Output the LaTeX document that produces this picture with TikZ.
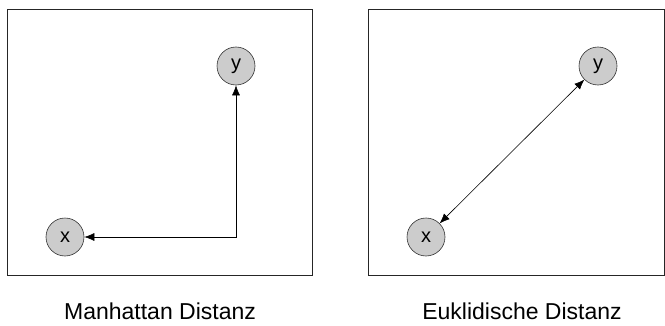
\documentclass[tikz,border=0pt]{standalone}
\usepackage{fontspec}
\setmainfont{Liberation Sans}
\usetikzlibrary{arrows.meta}
\begin{document}
\begin{tikzpicture}[x=1pt,y=1pt,
  pt/.style={circle,draw=black!80,fill=black!20,line width=0.6pt,minimum size=38pt,inner sep=0pt,font=\fontsize{20}{20}\selectfont},
  frame/.style={draw=black!85,line width=1pt},
  conn/.style={line width=0.6pt,{Latex[length=10pt,width=8pt]}-{Latex[length=10pt,width=8pt]}},
  captext/.style={font=\fontsize{23}{23}\selectfont}]
\useasboundingbox (0,0) rectangle (665,325);
% left
\draw[frame] (7,50) rectangle (312,316);
\node[pt] (y1) at (236,259) {y};
\node[pt] (x1) at (65,88) {x};
\draw[conn] (y1) |- (x1);
\node[captext] (c1) at (160,14) {Manhattan Distanz};
% right
\draw[frame] (368,50) rectangle (664,316);
\node[pt] (y2) at (598,259) {y};
\node[pt] (x2) at (426,88) {x};
\draw[conn] (y2) -- (x2);
\node[captext] (c2) at (522,14) {Euklidische Distanz};
\end{tikzpicture}
\end{document}
